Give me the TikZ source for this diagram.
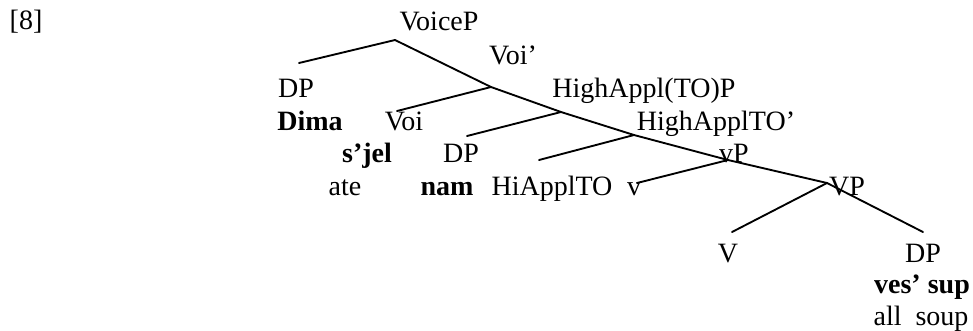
\documentclass[tikz,border=0pt]{standalone}
\usepackage{fontspec}
\setmainfont{Liberation Serif}
\usetikzlibrary{positioning}

\begin{document}
\begin{tikzpicture}[
        x=0.75pt, y=-0.75pt,
        cat/.style = {anchor=base, inner sep=0pt, font=\fontsize{21}{25}\selectfont},
        word/.style = {cat, font=\fontsize{21}{25}\selectfont\bfseries},
        branch/.style = {line width=1.4pt, line cap=round}
    ]
    \useasboundingbox (0,0) rectangle (973,330);

    \node[cat] (exnum) at (26,29) {[8]};

    % labels
    \node[cat] (voicep) at (439,30) {VoiceP};
    \node[cat] (voibar) at (513,64) {Voi'};
    \node[cat] (dpsubj) at (296,97) {DP};
    \node[cat] (highapplp) at (644,97) {HighAppl(TO)P};
    \node[word] (dima) at (310,130) {Dima};
    \node[cat] (voi) at (404,130) {Voi};
    \node[cat] (highapplbar) at (716,130) {HighApplTO'};
    \node[word] (sjel) at (367,162) {s'jel};
    \node[cat] (dpobj) at (461,162) {DP};
    \node[cat] (vpsmall) at (734,162) {vP};
    \node[cat] (ate) at (345,195) {ate};
    \node[word] (nam) at (447,195) {nam};
    \node[cat] (hiappl) at (552,195) {HiApplTO};
    \node[cat] (vhead) at (634,195) {v};
    \node[cat] (vp) at (847,195) {VP};
    \node[cat] (verb) at (728,262) {V};
    \node[cat] (dptheme) at (923,262) {DP};
    \node[word] (vessup) at (922,293) {ves' sup};
    \node[cat] (allsoup) at (921,325) {all~\ soup};

    % branching points
    \coordinate (voicep-j) at (395,40);
    \coordinate (voibar-j) at (491,87);
    \coordinate (highapplp-j) at (561,112);
    \coordinate (highapplbar-j) at (634,135);
    \coordinate (vpsmall-j) at (728,160);
    \coordinate (vp-j) at (827,183);
    % branch ends
    \coordinate (dpsubj-t) at (299,63);
    \coordinate (voi-t) at (397,111);
    \coordinate (dpobj-t) at (467,136);
    \coordinate (hiappl-t) at (539,160);
    \coordinate (vhead-t) at (637,183);
    \coordinate (verb-t) at (732,232);
    \coordinate (dptheme-t) at (923,232);

    \draw[branch] (dpsubj-t) -- (voicep-j) -- (voibar-j);
    \draw[branch] (voi-t) -- (voibar-j) -- (highapplp-j);
    \draw[branch] (dpobj-t) -- (highapplp-j) -- (highapplbar-j);
    \draw[branch] (hiappl-t) -- (highapplbar-j) -- (vpsmall-j);
    \draw[branch] (vhead-t) -- (vpsmall-j) -- (vp-j);
    \draw[branch] (verb-t) -- (vp-j) -- (dptheme-t);
\end{tikzpicture}
\end{document}
